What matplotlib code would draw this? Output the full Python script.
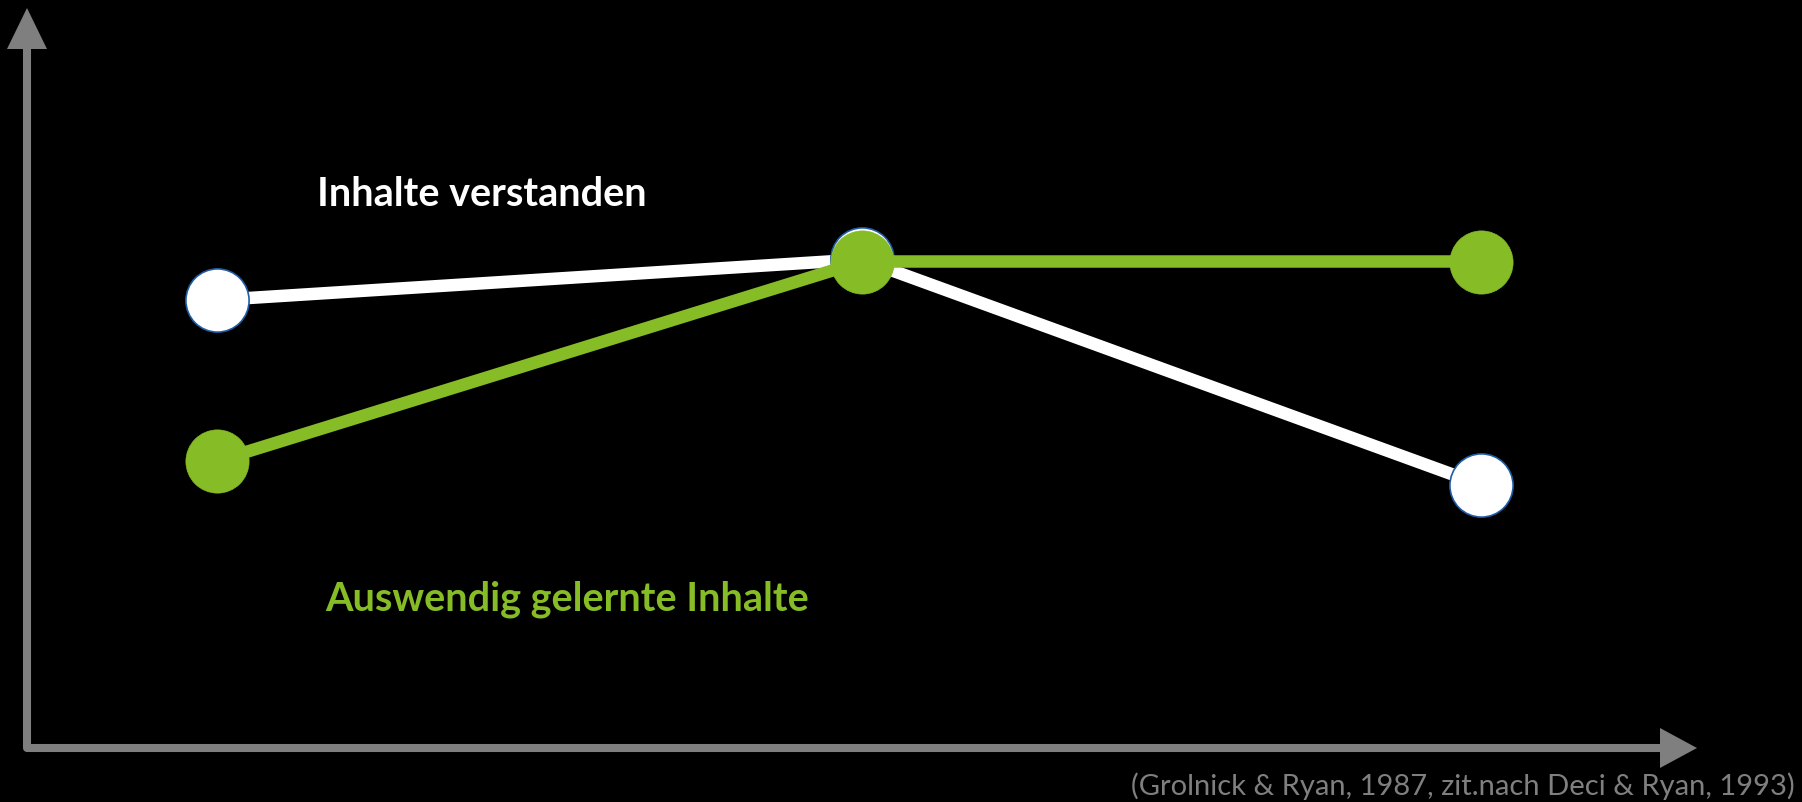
import matplotlib.pyplot as plt
from matplotlib.patches import Polygon

# data (arbitrary units, y grows upward from the x axis)
phases = [0, 1.02, 2]
understood = [6.4, 6.98, 3.76]     # "Inhalte verstanden"
memorized = [4.1, 6.95, 6.95]      # "Auswendig gelernte Inhalte"

label_understood = "Inhalte verstanden"
label_memorized = "Auswendig gelernte Inhalte"
source = "(Grolnick & Ryan, 1987, zit.nach Deci & Ryan, 1993)"

GREEN = "#86bc25"
GREY = "#7f7f7f"
EDGE = "#1f5ca6"

W, H = 1802, 802
fig = plt.figure(figsize=(W / 100, H / 100), dpi=100, facecolor="black")
ax = fig.add_axes([0, 0, 1, 1])
ax.set_facecolor("black")
ax.set_axis_off()

# scale: x=0 at px 217, 632 px per step; y=0 at px 748, 70 px per unit
ax.set_xlim(-217 / 632, (W - 217) / 632)
ax.set_ylim(-(H - 748) / 70, 748 / 70)


def px(x, y):
    """pixel (from top-left) -> axes fraction"""
    return (x / W, 1 - y / H)


# axis arrows
ax.plot(*zip(px(27, 48), px(27, 748), px(1662, 748)), transform=ax.transAxes,
        color=GREY, lw=5.8, solid_joinstyle="round", solid_capstyle="butt")
ax.add_patch(Polygon([px(7, 49), px(47, 49), px(27, 8)], closed=True,
                     transform=ax.transAxes, color=GREY, lw=0))
ax.add_patch(Polygon([px(1660, 728), px(1660, 768), px(1697, 748)], closed=True,
                     transform=ax.transAxes, color=GREY, lw=0))

# series
ax.plot(phases, understood, color="white", lw=9, zorder=3)
ax.plot(phases, understood, ls="none", marker="o", ms=45.5, mfc="white",
        mec=EDGE, mew=1.2, zorder=4)
ax.plot(phases, memorized, color=GREEN, lw=9, zorder=5)
ax.plot(phases, memorized, ls="none", marker="o", ms=45.5, mfc=GREEN,
        mec=GREEN, mew=0.5, zorder=6)

# labels
ax.text(0.158, 7.91, label_understood, color="white", fontsize=28.5,
        fontweight="bold", family="Lato", ha="left", va="center")
ax.text(0.171, 2.13, label_memorized, color=GREEN, fontsize=28.5,
        fontweight="bold", family="Lato", ha="left", va="center")
ax.text(*px(1795, 786), source, transform=ax.transAxes, color=GREY,
        fontsize=21, family="Lato", ha="right", va="center")

fig.savefig("out.png", dpi=100, facecolor="black")
